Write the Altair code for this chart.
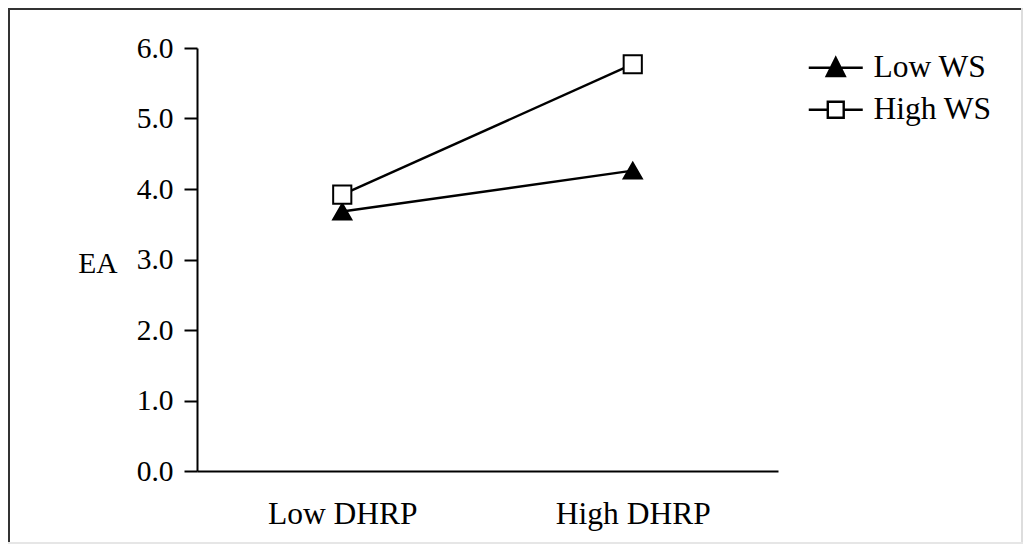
import altair as alt
import pandas as pd

# ---- data ----
categories = ["Low DHRP", "High DHRP"]
series_names = ["Low WS", "High WS"]
low_ws = [3.68, 4.26]
high_ws = [3.92, 5.77]
y_ticks = [0, 1, 2, 3, 4, 5, 6]

rows = []
for cat, v in zip(categories, low_ws):
    rows.append({"DHRP": cat, "WS": "Low WS", "EA": v})
for cat, v in zip(categories, high_ws):
    rows.append({"DHRP": cat, "WS": "High WS", "EA": v})
df = pd.DataFrame(rows)

FONT = "Liberation Serif, Times New Roman, Times, serif"
INK = "#000000"

# legend glyphs: line through marker (custom symbol paths)
tri_path = "M-2,0H2M0,-0.72L0.667,0.61H-0.667Z"
sq_path = "M-2,0H-0.59M0.59,0H2M-0.59,-0.59H0.59V0.59H-0.59Z"

x_enc = alt.X(
    "DHRP:N",
    sort=categories,
    scale=alt.Scale(type="point", padding=0.5),
    axis=alt.Axis(
        title=None, ticks=False, tickSize=0, labelAngle=0, labelPadding=27,
        labelFont=FONT, labelFontSize=31.5, labelColor=INK,
        domainColor=INK, domainWidth=2, grid=False,
    ),
)
y_enc = alt.Y(
    "EA:Q",
    scale=alt.Scale(domain=[0, 6], nice=False, zero=True),
    axis=alt.Axis(
        values=y_ticks, format=".1f", title="EA", titleAngle=0,
        titleAlign="right", titleBaseline="alphabetic", titleX=-80, titleY=224,
        titleFont=FONT, titleFontSize=29.5, titleFontWeight="normal", titleColor=INK,
        labelFont=FONT, labelFontSize=29.5, labelColor=INK, labelPadding=11,
        tickSize=13, tickWidth=2, tickColor=INK, domainColor=INK, domainWidth=2,
        grid=False,
    ),
)

base = alt.Chart(df)

lines = base.mark_line(color=INK, strokeWidth=2.4).encode(
    x=x_enc, y=y_enc, detail="WS:N"
)

points = base.mark_point(filled=True, stroke=INK, strokeWidth=2, size=330, opacity=1).encode(
    x=x_enc,
    y=y_enc,
    shape=alt.Shape("WS:N", scale=alt.Scale(domain=series_names, range=["triangle-up", "square"]), legend=None),
    fill=alt.Fill("WS:N", scale=alt.Scale(domain=series_names, range=[INK, "white"]), legend=None),
)

leg = alt.Legend(
    title=None, orient="none", legendX=623, legendY=4, padding=0,
    symbolSize=729, symbolStrokeWidth=2.4, symbolStrokeColor=INK,
    labelFont=FONT, labelFontSize=31.5, labelColor=INK, labelOffset=22,
    rowPadding=9,
)
legend_layer = base.transform_filter("false").mark_point(
    filled=True, stroke=INK, strokeWidth=2, opacity=1
).encode(
    x=x_enc,
    y=y_enc,
    shape=alt.Shape("WS:N", scale=alt.Scale(domain=series_names, range=[tri_path, sq_path]), legend=leg),
    fill=alt.Fill("WS:N", scale=alt.Scale(domain=series_names, range=[INK, "white"]), legend=leg),
    stroke=alt.Stroke("WS:N", scale=alt.Scale(domain=series_names, range=[INK, INK]), legend=leg),
)

frame_src = alt.Chart(pd.DataFrame({"k": [0]}))
frame_left = frame_src.mark_rule(color="#333333", strokeWidth=2).encode(
    x=alt.value(-188), y=alt.value(-40), y2=alt.value(496))
frame_top = frame_src.mark_rule(color="#333333", strokeWidth=2).encode(
    x=alt.value(-189), x2=alt.value(826), y=alt.value(-39))
frame_right = frame_src.mark_rule(color="#dddddd", strokeWidth=2).encode(
    x=alt.value(825), y=alt.value(-40), y2=alt.value(496))
frame_bottom = frame_src.mark_rule(color="#e6e6e6", strokeWidth=2).encode(
    x=alt.value(-189), x2=alt.value(826), y=alt.value(495))

chart = alt.layer(
    frame_left, frame_top, frame_right, frame_bottom, lines, points, legend_layer
).resolve_scale(
    shape="independent", fill="independent", stroke="independent"
).properties(
    width=581, height=423,
    autosize=alt.AutoSizeParams(type="none"),
    padding={"left": 189, "top": 40, "right": 245, "bottom": 73},
    background="white",
).configure_view(stroke=None)

chart.save("out.html", embed_options={"renderer": "svg", "actions": False})
